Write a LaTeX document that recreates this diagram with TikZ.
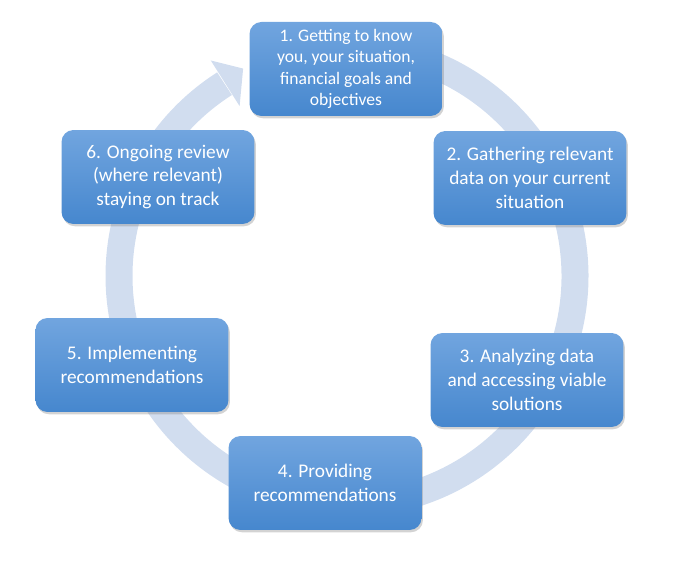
\documentclass[tikz,border=0pt]{standalone}
\usepackage{fontspec}
\setmainfont{Carlito}
\usetikzlibrary{calc,shadows,backgrounds}

\definecolor{boxtop}{RGB}{113,165,223}
\definecolor{boxbot}{RGB}{70,135,206}
\definecolor{ringblue}{RGB}{209,221,239}

\begin{document}
\begin{tikzpicture}[
    x=0.02cm, y=0.02cm,
    line join=round,
    stage/.style={rounded corners=6.8pt, top color=boxtop, bottom color=boxbot,
        text=white, align=center, inner sep=2pt,
        minimum width=3.86cm, minimum height=1.88cm,
        font=\fontsize{11}{13.6}\selectfont,
        drop shadow={shadow xshift=0.8pt, shadow yshift=-1.3pt, opacity=0.35}},
    ring/.style={line width=0.54cm, ringblue}
]
\useasboundingbox (0,0) rectangle (682,564);

% ------------------------
% Cycle centre
% ------------------------
\coordinate (hub) at (347,288);

% ------------------------
% Stages
% ------------------------
\node[stage, font=\fontsize{10}{12.2}\selectfont] (know) at (346,495)
{1. Getting to know\\you, your situation,\\financial goals and\\objectives};
\node[stage] (gather) at (530,386)
{2. Gathering relevant\\data on your current\\situation};
\node[stage] (analyse) at (527,184)
{3. Analyzing data\\and accessing viable\\solutions};
\node[stage] (advise) at (325,81)
{4. Providing\\recommendations};
\node[stage] (implement) at (132,199)
{5. Implementing\\recommendations};
\node[stage] (review) at (158,387)
{6. Ongoing review\\(where relevant)\\staying on track};

% ------------------------
% Circular arrow behind the stages
% ------------------------
\begin{scope}[on background layer]
    \draw[ring] ($(hub)+(95:228)$) arc[start angle=95, end angle=-237.5, radius=228];
    \fill[ringblue] ($(hub)+(122.3:255)$) -- ($(hub)+(116.6:232)$)
        -- ($(hub)+(122.3:201)$) -- cycle;
\end{scope}

\end{tikzpicture}
\end{document}
